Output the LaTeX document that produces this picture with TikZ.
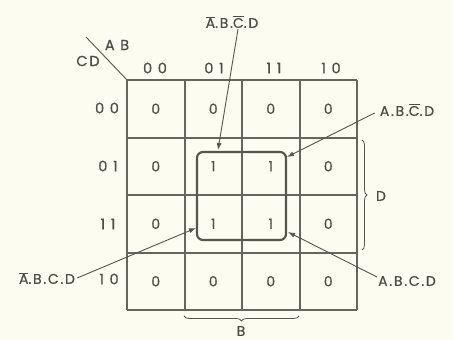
\documentclass[tikz,border=0pt]{standalone}
\usepackage{fontspec}
\setmainfont{Poppins}[LetterSpace=12,FakeBold=0.6]
\usetikzlibrary{arrows.meta,decorations.pathreplacing}
\definecolor{bg}{HTML}{FCFCF0}
\definecolor{ink}{HTML}{55564E}
\definecolor{gridc}{HTML}{66665E}
\definecolor{txt}{HTML}{4E4E48}
\newcommand\nbar[1]{$\overline{\mbox{#1}}$}
\begin{document}
\begin{tikzpicture}[x=1pt,y=-1pt,
  gridline/.style={draw=gridc,line width=1.6pt},
  cellval/.style={text=txt,font=\fontsize{14}{14}\selectfont,inner sep=0pt},
  hdr/.style={text=txt,font=\fontsize{14.5}{15}\selectfont,inner sep=0pt},
  lbl/.style={text=txt,font=\fontsize{14}{15}\selectfont,inner sep=0pt},
  pointer/.style={draw=ink,line width=0.9pt,-{Latex[length=7pt,width=5pt]}},
  groupbox/.style={draw=ink,line width=2.2pt,rounded corners=6pt,minimum width=89pt,minimum height=88pt,inner sep=0pt},
  bracket/.style={draw=ink,line width=0.8pt,decorate,decoration={brace,amplitude=5pt}}]
\fill[bg] (0,0) rectangle (453,340);
\useasboundingbox (0,0) rectangle (453,340);
% grid
\foreach \gx in {127,185,242,300,357} {
  \draw[gridline] (\gx,80) -- (\gx,310);
}
\foreach \gy in {80,138,195,253,310} {
  \draw[gridline] (127,\gy) -- (357,\gy);
}
% cells
\foreach \r in {0,...,3} {
  \foreach \c in {0,...,3} {
    \pgfmathtruncatemacro\v{((\r==1 || \r==2) && (\c==1 || \c==2)) ? 1 : 0}
    \node[cellval] (c\r\c) at ({155.75+57.5*\c},{108.75+57.5*\r}) {\v};
  }
}
% headers
\node[hdr] (h0) at (155,68) {0 0};
\node[hdr] (h1) at (214,68) {0 1};
\node[hdr] (h2) at (274,68) {1 1};
\node[hdr] (h3) at (331,68) {1 0};
\node[hdr] (r0) at (107,108) {0 0};
\node[hdr] (r1) at (108,166) {0 1};
\node[hdr] (r2) at (108,224) {1 1};
\node[hdr] (r3) at (109,279) {1 0};
% corner
\coordinate (corner) at (127,80);
\coordinate (diagend) at (86,37);
\draw[ink,line width=0.9pt] (diagend) -- (corner);
\node[hdr] (ab) at (117,45) {A B};
\node[hdr] (cd) at (88,61) {CD};
% group
\node[groupbox] (grp) at (241.5,196) {};
\coordinate (a1) at (218,150);
\coordinate (a2) at (287,157);
\coordinate (a3) at (196,228);
\coordinate (a4) at (288,232);
% labels
\node[lbl] (t1) at (232,22) {\nbar{A}.B.\nbar{C}.D};
\node[lbl] (t2) at (407,110) {A.B.\nbar{C}.D};
\node[lbl] (t3) at (47,278) {\nbar{A}.B.C.D};
\node[lbl] (t4) at (407,281) {A.B.C.D};
\draw[pointer] ([xshift=6pt,yshift=-1pt]t1.south) -- (a1);
\draw[pointer] ([xshift=-5pt,yshift=-3pt]t2.west) -- (a2);
\draw[pointer] ([xshift=2pt]t3.east) -- (a3);
\draw[pointer] ([xshift=-1pt,yshift=4pt]t4.west) -- (a4);
% braces
\draw[bracket] (362,140) -- (362,250);
\node[lbl] (dlab) at (381,196) {D};
\draw[bracket] (299,316) -- (184,316);
\node[lbl] (blab) at (241,331) {B};
\end{tikzpicture}
\end{document}
